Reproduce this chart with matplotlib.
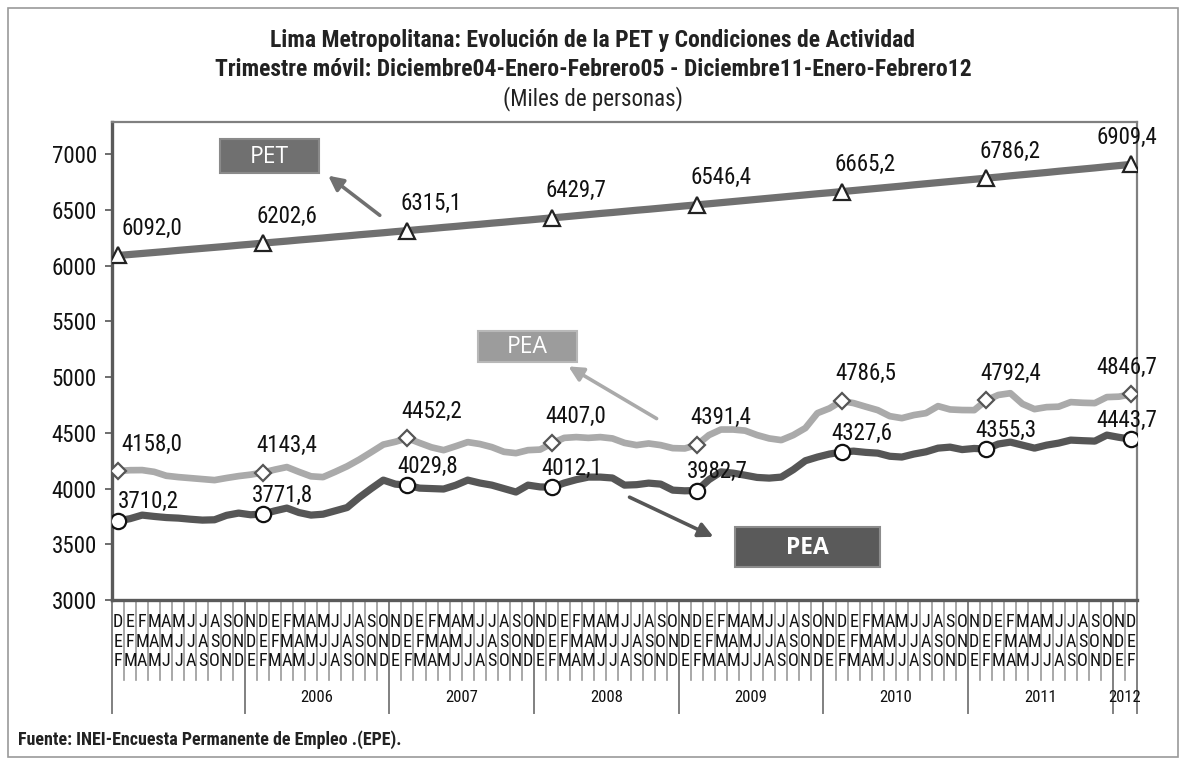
import os
import matplotlib
matplotlib.use("Agg")
import matplotlib.pyplot as plt
from matplotlib import font_manager as fm
from matplotlib.patches import Rectangle, FancyArrowPatch
from matplotlib.lines import Line2D

# ---------------- data ----------------
month_initials = ['D', 'E', 'F', 'M', 'A', 'M', 'J', 'J', 'A', 'S', 'O', 'N']
n_points = 85
trimesters = [month_initials[i % 12] + month_initials[(i + 1) % 12] + month_initials[(i + 2) % 12]
              for i in range(n_points)]
year_labels = ['', '2006', '2007', '2008', '2009', '2010', '2011', '2012']
year_edges = [0, 11, 23, 35, 47, 59, 71, 83, 85]

pet = [6092.0, 6101, 6110, 6119, 6128, 6138, 6147, 6156, 6165, 6174, 6184, 6193,
       6202.6, 6212, 6221, 6231, 6240, 6249, 6259, 6268, 6278, 6287, 6296, 6306,
       6315.1, 6325, 6334, 6344, 6353, 6363, 6372, 6382, 6391, 6401, 6410, 6420,
       6429.7, 6439, 6449, 6459, 6469, 6478, 6488, 6498, 6507, 6517, 6527, 6537,
       6546.4, 6556, 6566, 6576, 6586, 6596, 6606, 6616, 6626, 6636, 6646, 6655,
       6665.2, 6675, 6685, 6695, 6705, 6715, 6726, 6736, 6746, 6756, 6766, 6776,
       6786.2, 6796, 6807, 6817, 6827, 6837, 6848, 6858, 6868, 6878, 6889, 6899,
       6909.4]

pea = [4158.0, 4165, 4166, 4150, 4115, 4103, 4094, 4085, 4076, 4095, 4112, 4125,
       4143.4, 4170, 4193, 4150, 4110, 4103, 4150, 4200, 4260, 4327, 4395, 4420,
       4452.2, 4410, 4370, 4345, 4380, 4417, 4400, 4372, 4330, 4318, 4345, 4350,
       4407.0, 4455, 4462, 4455, 4462, 4450, 4410, 4390, 4405, 4390, 4363, 4360,
       4391.4, 4480, 4530, 4530, 4520, 4480, 4450, 4435, 4480, 4543, 4677, 4720,
       4786.5, 4767, 4735, 4704, 4650, 4632, 4660, 4677, 4740, 4710, 4705, 4704,
       4792.4, 4840, 4856, 4760, 4713, 4731, 4735, 4776, 4770, 4767, 4821, 4825,
       4846.7]

peo = [3710.2, 3730, 3762, 3750, 3740, 3735, 3725, 3717, 3720, 3760, 3780, 3765,
       3771.8, 3800, 3825, 3785, 3762, 3770, 3800, 3830, 3920, 4000, 4076, 4040,
       4029.8, 4004, 4000, 3996, 4030, 4076, 4050, 4031, 4000, 3969, 4031, 4015,
       4012.1, 4050, 4080, 4103, 4103, 4095, 4031, 4035, 4049, 4040, 3986, 3980,
       3982.7, 4080, 4150, 4139, 4120, 4100, 4094, 4103, 4170, 4250, 4283, 4310,
       4327.6, 4336, 4325, 4318, 4290, 4283, 4310, 4330, 4363, 4372, 4350, 4360,
       4355.3, 4400, 4417, 4390, 4363, 4390, 4408, 4435, 4430, 4426, 4480, 4460,
       4443.7]

labeled_idx = [0, 12, 24, 36, 48, 60, 72, 84]
y_ticks = [3000, 3500, 4000, 4500, 5000, 5500, 6000, 6500, 7000]

title1 = "Lima Metropolitana: Evolución de la PET y Condiciones de Actividad"
title2 = "Trimestre móvil: Diciembre04-Enero-Febrero05 - Diciembre11-Enero-Febrero12"
title3 = "(Miles de personas)"
footer = "Fuente: INEI-Encuesta Permanente de Empleo .(EPE)."

# ---------------- fonts: prefer a narrow sans ----------------
_files = [f.fname for f in fm.fontManager.ttflist]


def _find(keys):
    for k in keys:
        for f in _files:
            if os.path.basename(f).lower().startswith(k.lower()):
                return f
    return None


reg_path = _find(['LiberationSansNarrow-Regular', 'ArialNarrow.', 'arialn.', 'NotoSans-Condensed.',
                  'RobotoCondensed-Regular', 'DejaVuSansCondensed.'])
bold_path = _find(['LiberationSansNarrow-Bold.', 'ArialNarrow-Bold', 'arialnb.', 'NotoSans-CondensedBold',
                   'RobotoCondensed-Bold', 'DejaVuSansCondensed-Bold.'])
scale = 1.0
if reg_path is None:
    scale = 0.9
elif 'DejaVu' in reg_path:
    scale = 0.9


def F(size, bold=False):
    size = size * scale
    p = bold_path if bold else reg_path
    if p:
        return fm.FontProperties(fname=p, size=size)
    return fm.FontProperties(family=['Liberation Sans', 'DejaVu Sans'], size=size,
                             weight='bold' if bold else 'normal')


W, H = 1186, 764
fig = plt.figure(figsize=(W / 100, H / 100), dpi=100)
fig.patch.set_facecolor('white')


def fp(x, y):
    return (x / W, 1 - y / H)


# outer frame
fig.patches.append(Rectangle(fp(8, 757), 1170 / W, 749 / H, transform=fig.transFigure,
                             fill=False, edgecolor='#9a9a9a', linewidth=1.2))

L, R, T, B = 112, 1137, 122, 600
ax = fig.add_axes([L / W, 1 - B / H, (R - L) / W, (B - T) / H])
ax.set_xlim(-0.5, n_points - 0.5)
ax.set_ylim(3000, 7290)

x = list(range(n_points))
c_pet, c_pea, c_peo = '#707070', '#aaaaaa', '#565656'
ax.plot(x, pet, color=c_pet, lw=5.2, solid_joinstyle='round', zorder=3)
ax.plot(x, pea, color=c_pea, lw=4.8, solid_joinstyle='round', zorder=3)
ax.plot(x, peo, color=c_peo, lw=5.2, solid_joinstyle='round', zorder=3)

ax.plot(labeled_idx, [pet[i] for i in labeled_idx], ls='none', marker='^', ms=11,
        mfc='white', mec='#222222', mew=1.6, zorder=4)
ax.plot(labeled_idx, [pea[i] for i in labeled_idx], ls='none', marker='D', ms=8.5,
        mfc='white', mec='#555555', mew=1.6, zorder=4)
ax.plot(labeled_idx, [peo[i] for i in labeled_idx], ls='none', marker='o', ms=11,
        mfc='white', mec='#111111', mew=1.6, zorder=4)


def fmt(v):
    return f"{v:.1f}".replace('.', ',')


def add_labels(series, dy_px, dx_px=24):
    for i in labeled_idx:
        dx = dx_px if i != labeled_idx[-1] else -4
        if i == 0:
            dx = dx_px + 10
        ax.annotate(fmt(series[i]), (i, series[i]), xytext=(dx * 0.72, dy_px * 0.72),
                    textcoords='offset points', ha='center', va='center',
                    fontproperties=F(16.5), color='#111111', zorder=5, annotation_clip=False)


add_labels(pet, 27)
add_labels(pea, 27)
add_labels(peo, 19, dx_px=20)

# axes styling
ax.set_yticks(y_ticks)
ax.set_yticklabels([str(v) for v in y_ticks], color='#111111')
for lbl in ax.get_yticklabels():
    lbl.set_fontproperties(F(16.5))
ax.tick_params(axis='y', direction='out', length=5, width=1.2, color='#555555', pad=6)
ax.set_xticks([])
for s in ['top', 'right']:
    ax.spines[s].set_color('#808080')
    ax.spines[s].set_linewidth(1.6)
ax.spines['left'].set_color('#5a5a5a')
ax.spines['left'].set_linewidth(2.4)
ax.spines['bottom'].set_color('#5a5a5a')
ax.spines['bottom'].set_linewidth(2.4)

# category axis (multi-level)
trans = ax.get_xaxis_transform()
axh = B - T


def ay(ypx):
    return (B - ypx) / axh


for k in range(1, n_points):
    if k in year_edges:
        continue
    ax.add_line(Line2D([k - 0.5, k - 0.5], [0, ay(680)], transform=trans, color='#9a9a9a',
                       lw=1.2, clip_on=False))
for e in year_edges:
    ax.add_line(Line2D([e - 0.5, e - 0.5], [0, ay(713)], transform=trans, color='#808080',
                       lw=1.4, clip_on=False))

row_y = [622, 642, 661]
for i, t in enumerate(trimesters):
    for r in range(3):
        ax.text(i, ay(row_y[r]), t[r], transform=trans, ha='center', va='center',
                fontproperties=F(13), color='#111111', clip_on=False)

for g, lab in enumerate(year_labels):
    if lab:
        cx = (year_edges[g] + year_edges[g + 1] - 1) / 2
        ax.text(cx, ay(697), lab, transform=trans, ha='center', va='center',
                fontproperties=F(12), color='#111111', clip_on=False)

# titles
fig.text(*fp(593, 41), title1, ha='center', va='center', fontproperties=F(17, True), color='#222222')
fig.text(*fp(593, 70), title2, ha='center', va='center', fontproperties=F(17, True), color='#222222')
fig.text(*fp(593, 99), title3, ha='center', va='center', fontproperties=F(16.5), color='#222222')
fig.text(*fp(18, 740), footer, ha='left', va='center', fontproperties=F(13, True), color='#222222')


# annotation boxes and arrows
def box(x0, y0, x1, y1, fc, ec, label, bold):
    fig.patches.append(Rectangle(fp(x0, y1), (x1 - x0) / W, (y1 - y0) / H, transform=fig.transFigure,
                                 facecolor=fc, edgecolor=ec, linewidth=1.5, zorder=6))
    fig.text(*fp((x0 + x1) / 2, (y0 + y1) / 2 + 1), label, ha='center', va='center',
             family=['Open Sans', 'Liberation Sans', 'DejaVu Sans'], fontsize=16.5,
             fontweight='bold' if bold else 'normal', color='white', zorder=7)


def arrow(x0, y0, x1, y1, color):
    fig.add_artist(FancyArrowPatch(
        fp(x0, y0), fp(x1, y1), transform=fig.transFigure, arrowstyle='-|>',
        mutation_scale=22, color=color, lw=2.6, zorder=6))


box(220, 139, 319, 173, '#707070', '#8a8a8a', 'PET', False)
arrow(382, 217, 326, 174, '#707070')
box(478, 331, 577, 362, '#9c9c9c', '#b8b8b8', 'PEA', False)
arrow(659, 420, 566, 365, '#aaaaaa')
box(735, 527, 880, 567, '#5a5a5a', '#8c8c8c', 'PEA', True)
arrow(627, 496, 716, 538, '#565656')

fig.savefig('out.png', dpi=100, facecolor='white')
